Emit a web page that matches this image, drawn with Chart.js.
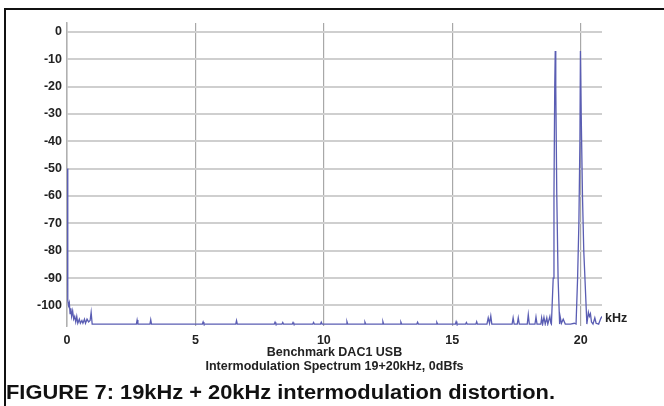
<!DOCTYPE html>
<html>
<head>
<meta charset="utf-8">
<script src="https://cdn.jsdelivr.net/npm/chart.js@4.4.0/dist/chart.umd.min.js"></script>
<style>
    body{margin:0;background:#fff;}
    #wrap{width:664px;height:406px;position:relative;}
</style>
</head>
<body>
<div id="wrap"><canvas id="myChart" width="664" height="406"></canvas></div>
<script>
// spectrum, kHz / dB
let freqKHz = [
    0.0, 0.03, 0.06, 0.09, 0.12, 0.15, 0.18, 0.22, 0.26, 0.30, 0.34, 0.38, 0.42, 0.48, 0.52, 0.58, 0.62, 0.68, 0.72, 0.78, 0.84, 0.90, 0.94, 0.98, 1.05,
    2.70, 2.73, 2.76, 3.23, 3.26, 3.29, 5.27, 5.30, 5.33, 6.57, 6.60, 6.63, 8.07, 8.10, 8.13, 8.37, 8.40, 8.43, 8.77, 8.80, 8.83,
    9.57, 9.60, 9.63, 9.87, 9.90, 9.93,
    10.87, 10.90, 10.93, 11.57, 11.60, 11.63, 12.27, 12.30, 12.33, 12.97, 13.00, 13.03, 13.62, 13.65, 13.68, 14.37, 14.40, 14.43,
    15.12, 15.15, 15.18, 15.52, 15.55, 15.58, 15.92, 15.95, 15.98,
    16.35, 16.40, 16.45, 16.50, 16.54, 17.33, 17.37, 17.41, 17.53, 17.57, 17.61, 17.92, 17.96, 18.00, 18.22, 18.26, 18.30,
    18.45, 18.48, 18.52, 18.57, 18.62, 18.68, 18.72, 18.80, 18.84,
    18.86, 18.93, 18.96, 18.99, 19.01, 19.03, 19.07, 19.12, 19.18,
    19.20, 19.25, 19.32, 19.40, 19.60, 19.75,
    19.82, 19.88, 19.93, 19.97, 19.99, 20.02, 20.07, 20.12, 20.17, 20.24,
    20.28, 20.30, 20.34, 20.38, 20.42, 20.48, 20.55, 20.60, 20.70, 20.78, 20.83
];
let levelDb = [
    -50, -98, -100, -99, -103, -101, -104, -102, -105, -104, -106, -104, -106.5, -105, -106.5, -105.5, -106.5, -105, -106.5, -105, -106, -105.5, -102.5, -106.8, -106.8,
    -106.8, -105.3, -106.8, -106.8, -105.2, -106.8, -106.8, -106, -106.8, -106.8, -105.5, -106.8, -106.8, -106.1, -106.8, -106.8, -106.2, -106.8, -106.8, -106.2, -106.8,
    -106.8, -106.2, -106.8, -106.8, -106.1, -106.8,
    -106.8, -105.9, -106.8, -106.8, -106.1, -106.8, -106.8, -105.9, -106.8, -106.8, -106.1, -106.8, -106.8, -106.1, -106.8, -106.8, -106.2, -106.8,
    -106.8, -105.9, -106.8, -106.8, -106.2, -106.8, -106.8, -105.9, -106.8,
    -106.8, -104.5, -106.5, -103.8, -106.8, -106.8, -104.5, -106.8, -106.8, -104.5, -106.8, -106.8, -103.3, -106.8, -106.8, -104.2, -106.8,
    -106.8, -104.5, -106.8, -104.3, -106.8, -104.5, -106.8, -104, -106.5,
    -106.8, -90, -60, -20, -7, -20, -60, -90, -106.8,
    -104, -106.5, -105, -106.8, -106.8, -106.5,
    -106.8, -90, -70, -40, -7, -30, -60, -80, -91, -106.8,
    -104, -102.5, -104, -103, -106, -106.8, -104.5, -106.5, -106.8, -104.8, -104
];
let xTicks = [0, 5, 10, 15, 20];
let yTicks = [0, -10, -20, -30, -40, -50, -60, -70, -80, -90, -100];
let titleLines = ['Benchmark DAC1 USB', 'Intermodulation Spectrum 19+20kHz, 0dBfs'];
let caption = 'FIGURE 7: 19kHz + 20kHz intermodulation distortion.';

let points = [];
freqKHz.map((f, i) => {
    points.push({x: f, y: levelDb[i]})
})

// frame, kHz unit and figure caption
const extras = {
    id: 'extras',
    afterDraw(chart) {
        const c = chart.ctx;
        const area = chart.chartArea;
        c.save();
        c.strokeStyle = '#111';
        c.lineWidth = 2;
        c.beginPath();
        c.moveTo(664, 9);
        c.lineTo(5, 9);
        c.lineTo(5, 406);
        c.stroke();

        c.fillStyle = '#222';
        c.font = 'bold 12.5px "Liberation Sans", Arial, sans-serif';
        c.textAlign = 'left';
        c.textBaseline = 'middle';
        c.fillText('kHz', area.right + 3, chart.scales.y.getPixelForValue(-104.8));

        // caption is condensed: squeeze it to the reference width
        c.font = 'bold 19.5px "Liberation Sans", Arial, sans-serif';
        let w = c.measureText(caption).width;
        c.translate(6, 399);
        c.scale(549 / w, 1);
        c.fillStyle = '#111';
        c.textBaseline = 'alphabetic';
        c.fillText(caption, 0, 0);
        c.restore();
    }
};

var ctx = document.getElementById('myChart').getContext('2d');
var myChart = new Chart(ctx, {
    type: 'line',
    data: {
        datasets: [{
            data: points,
            borderColor: '#5a5db3',
            borderWidth: 1.3,
            pointRadius: 0,
            tension: 0,
            fill: false
        }]
    },
    options: {
        responsive: false,
        animation: false,
        events: [],
        layout: {padding: {top: 23, right: 62, bottom: 32, left: 0}},
        plugins: {
            legend: {display: false},
            tooltip: {enabled: false},
            title: {
                display: true,
                position: 'bottom',
                fullSize: false,
                text: titleLines,
                color: '#222',
                font: {family: '"Liberation Sans", Arial, sans-serif', size: 12.5, weight: 'bold', lineHeight: 1.12},
                padding: 0
            }
        },
        scales: {
            x: {
                type: 'linear',
                min: 0,
                max: 20.83,
                afterBuildTicks: axis => { axis.ticks = xTicks.map(v => ({value: v})) },
                afterFit: axis => { axis.height = 20 },
                grid: {color: '#a8a8a8', lineWidth: 1.2, drawTicks: false},
                border: {display: false},
                ticks: {
                    autoSkip: false,
                    maxRotation: 0,
                    padding: 7,
                    color: '#222',
                    font: {family: '"Liberation Sans", Arial, sans-serif', size: 12.5, weight: 'bold'}
                }
            },
            y: {
                min: -107.5,
                max: 3.2,
                afterBuildTicks: axis => { axis.ticks = yTicks.map(v => ({value: v})) },
                afterFit: axis => { axis.width = 67 },
                grid: {color: '#cfcfcf', lineWidth: 2, drawTicks: false},
                border: {display: true, color: '#b0b0b0', width: 1.5},
                ticks: {
                    padding: 5,
                    color: '#222',
                    font: {family: '"Liberation Sans", Arial, sans-serif', size: 12.5, weight: 'bold'}
                }
            }
        }
    },
    plugins: [extras]
});
</script>
</body>
</html>
